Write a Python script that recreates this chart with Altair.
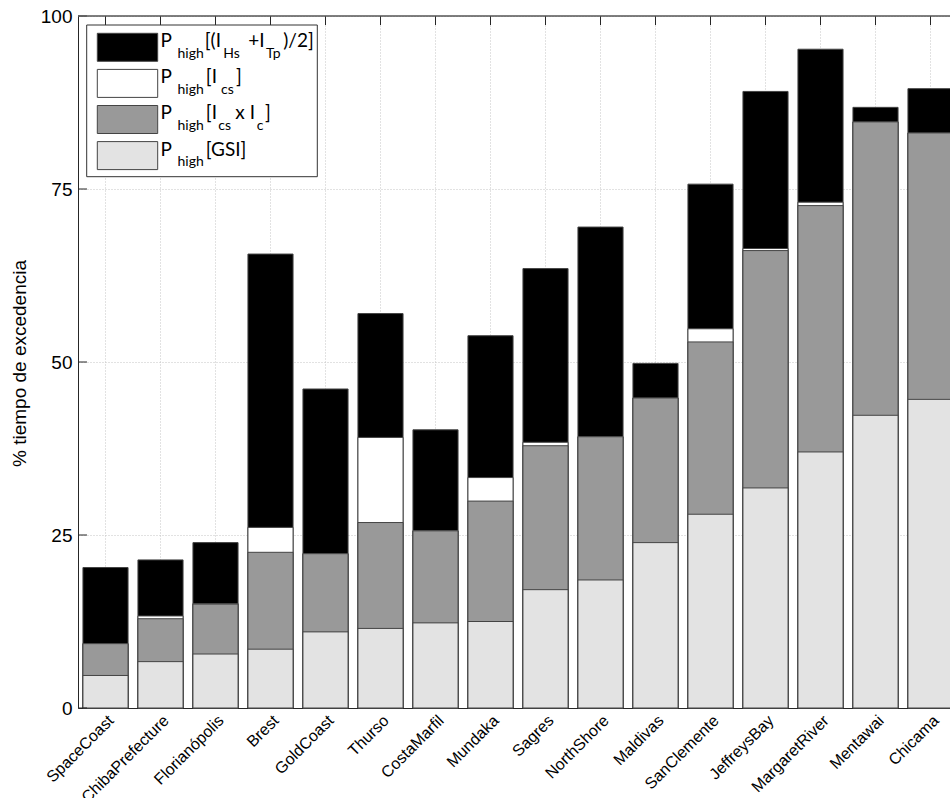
import altair as alt
import pandas as pd

# Sites along the x axis
SITES = [
    "SpaceCoast", "ChibaPrefecture", "Florianópolis", "Brest", "GoldCoast",
    "Thurso", "CostaMarfil", "Mundaka", "Sagres", "NorthShore", "Maldivas",
    "SanClemente", "JeffreysBay", "MargaretRiver", "Mentawai", "Chicama",
]

# Exceedance percentages for each criterion (bars are overlaid, not stacked)
P_HS_TP = [20.3, 21.4, 23.9, 65.6, 46.1, 57.0, 40.2, 53.8, 63.5, 69.5, 49.8, 75.7, 89.1, 95.2, 86.8, 89.5]
P_ICS = [9.3, 13.3, 15.1, 26.1, 22.3, 39.1, 25.6, 33.3, 38.4, 39.2, 44.8, 54.8, 66.4, 73.1, 84.7, 83.1]
P_ICS_IC = [9.3, 12.9, 15.0, 22.5, 22.3, 26.8, 25.6, 29.9, 37.9, 39.2, 44.8, 52.9, 66.1, 72.6, 84.7, 83.1]
P_GSI = [4.7, 6.7, 7.8, 8.5, 11.0, 11.5, 12.3, 12.5, 17.1, 18.5, 23.9, 28.0, 31.8, 37.0, 42.3, 44.6]

SERIES = ["hs_tp", "ics", "ics_ic", "gsi"]
FILLS = ["#000000", "#ffffff", "#999999", "#e3e3e3"]
Y_TICKS = [0, 25, 50, 75, 100]

# Legend label pieces: (row, anchor x, text, kind)
#   kind "R" = normal text ending at x, "L" = normal text starting at x,
#   "S" = subscript starting at x
LEGEND_PIECES = [
    (0, 94, "P", "R"), (0, 99.5, "high", "S"), (0, 143, "[(I", "R"),
    (0, 145.3, "Hs", "S"), (0, 186.5, "+I", "R"), (0, 188, "Tp", "S"),
    (0, 205.3, ")/2]", "L"),
    (1, 94, "P", "R"), (1, 99.5, "high", "S"), (1, 139, "[I", "R"),
    (1, 143, "cs", "S"), (1, 158, "]", "L"),
    (2, 94, "P", "R"), (2, 99.5, "high", "S"), (2, 139, "[I", "R"),
    (2, 140.3, "cs", "S"), (2, 177, "x I", "R"), (2, 178.7, "c", "S"),
    (2, 187, "]", "L"),
    (3, 94, "P", "R"), (3, 99.5, "high", "S"), (3, 127.7, "[GSI]", "L"),
]

PLOT_W = 872      # visible part of the plot area
X_RANGE = 880     # full extent of the band scale
PLOT_H = 692
FONT = "Liberation Sans"
LEGEND_FONT = "Lato"
AXIS_COLOR = "#262626"

rows = []
for rank, (key, vals) in enumerate(zip(SERIES, [P_HS_TP, P_ICS, P_ICS_IC, P_GSI])):
    for site, v in zip(SITES, vals):
        rows.append({"site": site, "series": key, "value": v, "rank": rank})
bars_df = pd.DataFrame(rows)

x_scale = alt.Scale(domain=SITES, range=[0, X_RANGE], paddingInner=0.18, paddingOuter=0.09)
y_scale = alt.Scale(domain=[0, 100], nice=False, zero=True)

x_axis = alt.Axis(
    title=None, labelAngle=-45, labelAlign="right", labelBaseline="top",
    labelFont=FONT, labelFontSize=16, labelColor="black", labelPadding=4,
    ticks=False, domainColor=AXIS_COLOR, grid=True, gridColor="#c4c4c4",
    gridDash=[1, 2], bandPosition=0.5,
)
y_axis = alt.Axis(
    values=Y_TICKS, title="% tiempo de excedencia", titleFont=FONT,
    titleFontSize=19, titleFontWeight="normal", titleColor="black",
    titleAngle=270, titleX=-53, titleY=347, titleAlign="center",
    titleBaseline="alphabetic", labelFont=FONT, labelFontSize=19,
    labelColor="black", labelPadding=6, ticks=False, domainColor=AXIS_COLOR,
    grid=True, gridColor="#c4c4c4", gridDash=[1, 2],
)

x_enc = alt.X("site:N", sort=SITES, scale=x_scale, axis=x_axis)
y_enc = alt.Y("value:Q", scale=y_scale, axis=y_axis, stack=None)

bars = alt.Chart(bars_df).mark_bar(stroke="#444444", strokeWidth=1).encode(
    x=x_enc,
    y=y_enc,
    color=alt.Color("series:N", scale=alt.Scale(domain=SERIES, range=FILLS), legend=None),
    order=alt.Order("rank:Q"),
)

# Inward ticks on the top frame and the left axis
top_ticks = alt.Chart(pd.DataFrame({"site": SITES})).mark_rule(
    color=AXIS_COLOR, strokeWidth=1
).encode(x=x_enc, y=alt.datum(100), y2=alt.value(9))

left_ticks = alt.Chart(pd.DataFrame({"value": Y_TICKS})).mark_rule(
    color=AXIS_COLOR, strokeWidth=1
).encode(y=y_enc, x=alt.value(0), x2=alt.value(9))

top_line = alt.Chart(pd.DataFrame({"value": [100]})).mark_rule(
    color="#555555", strokeWidth=1.5
).encode(y=y_enc, x=alt.value(0), x2=alt.value(PLOT_W))

plot = alt.layer(bars, top_ticks, left_ticks, top_line)

# Legend drawn in pixel space inside the plot area
px = alt.Scale(domain=[0, PLOT_W], range=[0, PLOT_W], nice=False, zero=False)
py = alt.Scale(domain=[0, PLOT_H], range=[0, PLOT_H], nice=False, zero=False)

frame_df = pd.DataFrame({"x0": [8.7], "x1": [239.3], "y0": [9.0], "y1": [160.7]})
frame = alt.Chart(frame_df).mark_rect(fill="white", stroke="#333333", strokeWidth=1).encode(
    x=alt.X("x0:Q", scale=px, axis=None), x2="x1:Q",
    y=alt.Y("y0:Q", scale=py, axis=None), y2="y1:Q",
)

swatch_df = pd.DataFrame({"series": SERIES, "row": list(range(len(SERIES)))})
swatches = alt.Chart(swatch_df).transform_calculate(
    x0="19.3", x1="79.7",
    y0="17.3 + 36.1 * datum.row", y1="45.3 + 36.1 * datum.row",
).mark_rect(stroke="#444444", strokeWidth=1).encode(
    x=alt.X("x0:Q", scale=px, axis=None), x2="x1:Q",
    y=alt.Y("y0:Q", scale=py, axis=None), y2="y1:Q",
    color=alt.Color("series:N", scale=alt.Scale(domain=SERIES, range=FILLS), legend=None),
)

pieces_df = pd.DataFrame(LEGEND_PIECES, columns=["row", "x", "text", "kind"])


def legend_text(kind, align, size, base):
    return alt.Chart(pieces_df).transform_filter(
        f"datum.kind == '{kind}'"
    ).transform_calculate(
        yb=f"{base} + 36.2 * datum.row"
    ).mark_text(
        align=align, baseline="alphabetic", font=LEGEND_FONT, fontSize=size, color="black"
    ).encode(
        x=alt.X("x:Q", scale=px, axis=None),
        y=alt.Y("yb:Q", scale=py, axis=None),
        text="text:N",
    )


text_right = legend_text("R", "right", 19, 31)
text_left = legend_text("L", "left", 19, 31)
text_sub = legend_text("S", "left", 14, 41.5)

legend = alt.layer(frame, swatches, text_right, text_left, text_sub)

chart = alt.layer(plot, legend).resolve_scale(
    x="independent", y="independent", color="independent"
).properties(
    width=PLOT_W,
    height=PLOT_H,
    padding={"left": 78, "top": 16, "right": 0, "bottom": 90},
    autosize=alt.AutoSizeParams(type="none"),
    background="white",
).configure_view(strokeWidth=0)

chart.save("out.html", embed_options={"renderer": "svg", "actions": False})
